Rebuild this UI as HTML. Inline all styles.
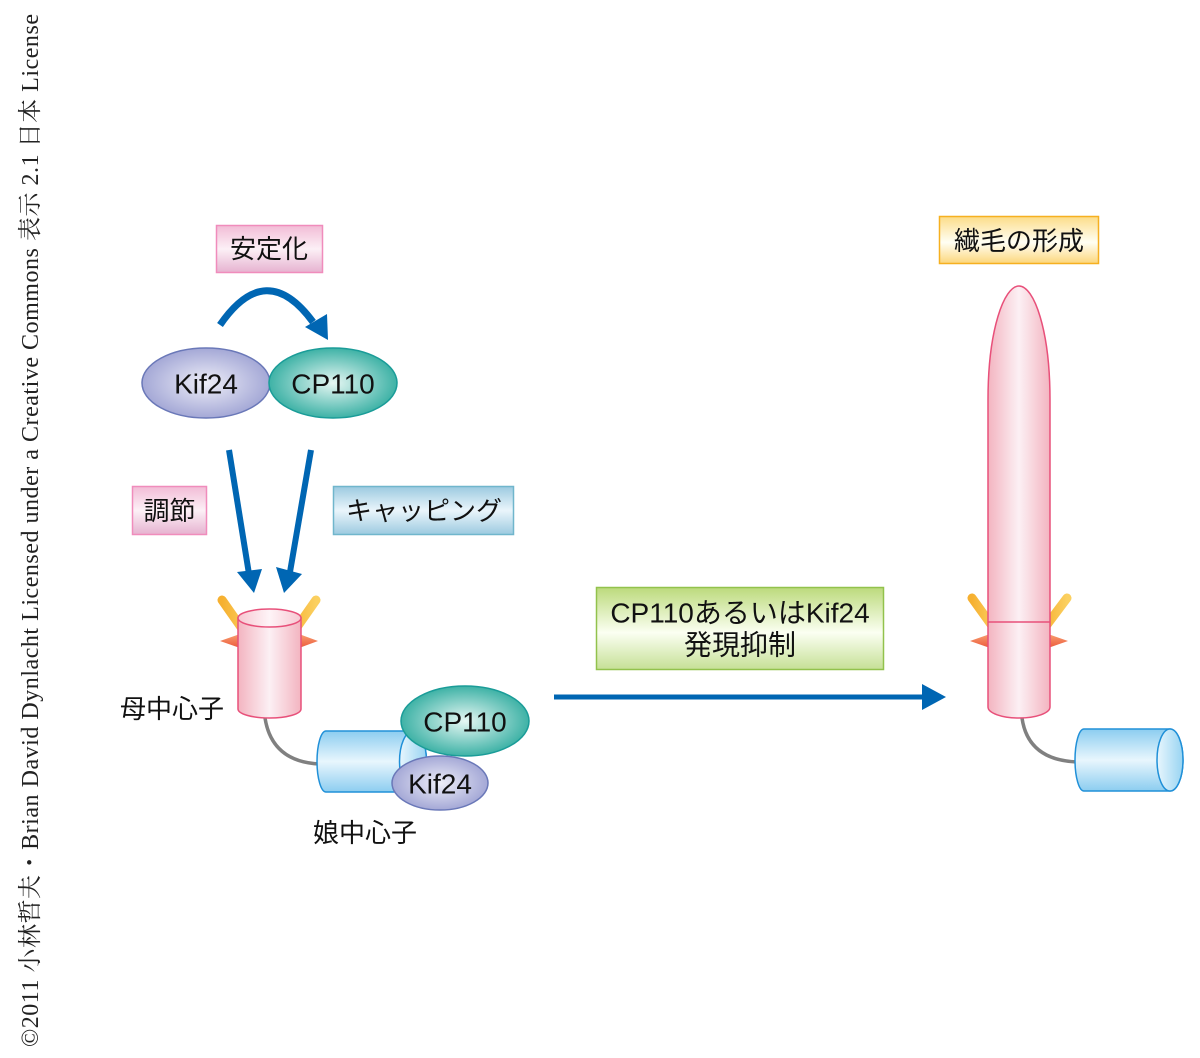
<!DOCTYPE html>
<html><head><meta charset="utf-8"><style>
html,body{margin:0;padding:0;background:#fff;}
svg{display:block;}
text{font-family:"Liberation Sans","Noto Sans CJK JP",sans-serif;fill:#111;}
</style></head><body>
<svg width="1200" height="1058" viewBox="0 0 1200 1058" xmlns="http://www.w3.org/2000/svg">
<defs>
<linearGradient id="gPinkBox" x1="0" y1="0" x2="0" y2="1">
<stop offset="0" stop-color="#f2bcd6"/><stop offset="0.5" stop-color="#fcf0f6"/><stop offset="1" stop-color="#e6b2d0"/></linearGradient>
<linearGradient id="gBlueBox" x1="0" y1="0" x2="0" y2="1">
<stop offset="0" stop-color="#9ccae0"/><stop offset="0.5" stop-color="#eaf5fb"/><stop offset="1" stop-color="#9ccae0"/></linearGradient>
<linearGradient id="gGreenBox" x1="0" y1="0" x2="0" y2="1">
<stop offset="0" stop-color="#bcda7c"/><stop offset="0.55" stop-color="#fbfff2"/><stop offset="1" stop-color="#c6e096"/></linearGradient>
<linearGradient id="gYellowBox" x1="0" y1="0" x2="0" y2="1">
<stop offset="0" stop-color="#fcdc88"/><stop offset="0.55" stop-color="#fffff4"/><stop offset="1" stop-color="#fcd67c"/></linearGradient>
<linearGradient id="gPinkCyl" x1="0" y1="0" x2="1" y2="0">
<stop offset="0" stop-color="#f3b4c0"/><stop offset="0.5" stop-color="#fcf0f4"/><stop offset="1" stop-color="#f3b4c0"/></linearGradient>
<linearGradient id="gPinkTop" x1="0" y1="0" x2="1" y2="0">
<stop offset="0" stop-color="#f7c8d2"/><stop offset="0.5" stop-color="#fef4f7"/><stop offset="1" stop-color="#f7c8d2"/></linearGradient>
<linearGradient id="gBlueCyl" x1="0" y1="0" x2="0" y2="1">
<stop offset="0" stop-color="#8ccdf0"/><stop offset="0.5" stop-color="#e8f6fd"/><stop offset="1" stop-color="#8ccdf0"/></linearGradient>
<linearGradient id="gBlueEnd" x1="0" y1="0" x2="1" y2="0">
<stop offset="0" stop-color="#e8f6fd"/><stop offset="1" stop-color="#98d4f2"/></linearGradient>
<linearGradient id="gOrange" x1="0" y1="0" x2="1" y2="0">
<stop offset="0" stop-color="#f6b030"/><stop offset="1" stop-color="#fbd060"/></linearGradient>
<linearGradient id="gRed" x1="0" y1="0" x2="0" y2="1">
<stop offset="0" stop-color="#f8a070"/><stop offset="1" stop-color="#ec5a3c"/></linearGradient>
<radialGradient id="gKif" cx="0.5" cy="0.5" r="0.5">
<stop offset="0" stop-color="#eeeef8"/><stop offset="1" stop-color="#a4a8d6"/></radialGradient>
<radialGradient id="gCP" cx="0.5" cy="0.5" r="0.5">
<stop offset="0" stop-color="#e6f7f3"/><stop offset="1" stop-color="#3eb2a6"/></radialGradient>
</defs>

<!-- vertical copyright -->
<text transform="translate(38,1047) rotate(-90)" x="0" y="0" textLength="1033" lengthAdjust="spacing" style="font-family:'Liberation Serif','Noto Serif CJK SC',serif;font-size:24px;fill:#222;">©2011 小林哲夫・Brian David Dynlacht Licensed under a Creative Commons 表示 2.1 日本 License</text>

<!-- 安定化 box -->
<rect x="216.5" y="225.5" width="106" height="47" fill="url(#gPinkBox)" stroke="#f08cbc" stroke-width="1.5"/>
<text x="269" y="249" font-size="26" text-anchor="middle" dominant-baseline="central">安定化</text>

<!-- curved arrow -->
<path d="M220,325 Q266,258 313,322" fill="none" stroke="#0066b3" stroke-width="7"/>
<polygon points="305,327 327,314 328,340" fill="#0066b3"/>

<!-- Kif24 / CP110 top -->
<ellipse cx="206" cy="383" rx="64" ry="35" fill="url(#gKif)" stroke="#6a78b8" stroke-width="1.5"/>
<ellipse cx="333" cy="383" rx="64" ry="35" fill="url(#gCP)" stroke="#1a9c98" stroke-width="1.5"/>
<text x="206" y="384" font-size="28" text-anchor="middle" dominant-baseline="central">Kif24</text>
<text x="333" y="384" font-size="28" text-anchor="middle" dominant-baseline="central">CP110</text>

<!-- down arrows -->
<line x1="229" y1="450" x2="249" y2="574" stroke="#0066b3" stroke-width="6"/>
<polygon points="237,572 262,569 254,593" fill="#0066b3"/>
<line x1="311" y1="450" x2="290" y2="572" stroke="#0066b3" stroke-width="6"/>
<polygon points="276,567 302,574 284,593" fill="#0066b3"/>

<!-- 調節 box -->
<rect x="132.5" y="486.5" width="74" height="48" fill="url(#gPinkBox)" stroke="#f08cbc" stroke-width="1.5"/>
<text x="169.5" y="511" font-size="26" text-anchor="middle" dominant-baseline="central">調節</text>

<!-- キャッピング box -->
<rect x="333.5" y="486.5" width="180" height="48" fill="url(#gBlueBox)" stroke="#70b6cc" stroke-width="1.5"/>
<text x="424" y="511" font-size="26" text-anchor="middle" dominant-baseline="central">キャッピング</text>

<!-- mother centriole -->
<line x1="222" y1="600" x2="250" y2="640" stroke="url(#gOrange)" stroke-width="9" stroke-linecap="round"/>
<line x1="316" y1="600" x2="288" y2="640" stroke="url(#gOrange)" stroke-width="9" stroke-linecap="round"/>
<polygon points="220,641 240,634 240,648" fill="url(#gRed)"/>
<polygon points="318,641 299,634 299,648" fill="url(#gRed)"/>
<path d="M265,718 Q272,762 320,764" fill="none" stroke="#808080" stroke-width="3.5"/>
<path d="M238,618 L238,709 A31.5,9 0 0 0 301,709 L301,618 Z" fill="url(#gPinkCyl)" stroke="#e8507a" stroke-width="1.5"/>
<ellipse cx="269.5" cy="618" rx="31.5" ry="9" fill="url(#gPinkTop)" stroke="#e8507a" stroke-width="1.5"/>
<text x="120" y="709" font-size="26" dominant-baseline="central">母中心子</text>

<!-- daughter centriole -->
<path d="M326,731 L413,731 A13.5,30.5 0 0 1 413,792 L326,792 A9,30.5 0 0 1 326,731 Z" fill="url(#gBlueCyl)" stroke="#2090d8" stroke-width="1.5"/>
<ellipse cx="413" cy="761.5" rx="13.5" ry="30.5" fill="url(#gBlueEnd)" stroke="#2090d8" stroke-width="1.5"/>
<ellipse cx="465" cy="721" rx="64" ry="35" fill="url(#gCP)" stroke="#1a9c98" stroke-width="1.5"/>
<ellipse cx="440" cy="783" rx="48" ry="27" fill="url(#gKif)" stroke="#6a78b8" stroke-width="1.5"/>
<text x="465" y="722" font-size="28" text-anchor="middle" dominant-baseline="central">CP110</text>
<text x="440" y="784" font-size="28" text-anchor="middle" dominant-baseline="central">Kif24</text>
<text x="313" y="833" font-size="26" dominant-baseline="central">娘中心子</text>

<!-- green box -->
<rect x="596.5" y="587.5" width="287" height="82" fill="url(#gGreenBox)" stroke="#92c24c" stroke-width="1.5"/>
<text x="740" y="613" font-size="28" text-anchor="middle" dominant-baseline="central">CP110あるいはKif24</text>
<text x="740" y="645" font-size="28" text-anchor="middle" dominant-baseline="central">発現抑制</text>

<!-- horizontal arrow -->
<line x1="554" y1="697" x2="924" y2="697" stroke="#0066b3" stroke-width="5"/>
<polygon points="922,684 946,697 922,710" fill="#0066b3"/>

<!-- 繊毛の形成 box -->
<rect x="939.5" y="216.5" width="159" height="47" fill="url(#gYellowBox)" stroke="#f6b020" stroke-width="1.5"/>
<text x="1019" y="241" font-size="26" text-anchor="middle" dominant-baseline="central">繊毛の形成</text>

<!-- cilium -->
<line x1="972" y1="598" x2="995" y2="630" stroke="url(#gOrange)" stroke-width="9" stroke-linecap="round"/>
<line x1="1067" y1="598" x2="1043" y2="630" stroke="url(#gOrange)" stroke-width="9" stroke-linecap="round"/>
<polygon points="970,641 990,634 990,648" fill="url(#gRed)"/>
<polygon points="1068,641 1048,634 1048,648" fill="url(#gRed)"/>
<path d="M1022,718 Q1028,760 1077,762" fill="none" stroke="#808080" stroke-width="3.5"/>
<path d="M988,707 L988,400 C988,330 1004,286 1019,286 C1034,286 1050,330 1050,400 L1050,707 A31,11 0 0 1 988,707 Z" fill="url(#gPinkCyl)" stroke="#e8507a" stroke-width="1.5"/>
<line x1="988" y1="622" x2="1050" y2="622" stroke="#e8507a" stroke-width="1.5"/>

<!-- right blue cylinder -->
<path d="M1084,729 L1170,729 A13,31 0 0 1 1170,791 L1084,791 A9,31 0 0 1 1084,729 Z" fill="url(#gBlueCyl)" stroke="#2090d8" stroke-width="1.5"/>
<ellipse cx="1170" cy="760" rx="13" ry="31" fill="url(#gBlueEnd)" stroke="#2090d8" stroke-width="1.5"/>
</svg>
</body></html>
